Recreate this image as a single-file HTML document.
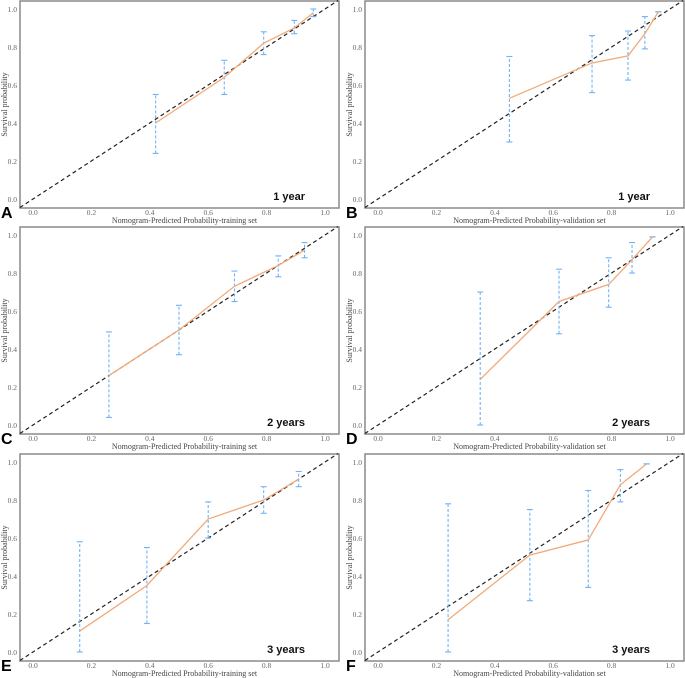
<!DOCTYPE html>
<html><head><meta charset="utf-8"><style>
body{margin:0;background:#fff;}
svg{display:block;}
</style></head><body>
<svg id="c" width="685" height="678" xmlns="http://www.w3.org/2000/svg"></svg>
<script>
const panelLetters=["A","B","C","D","E","F"];
const panelTitles=["1 year","1 year","2 years","2 years","3 years","3 years"];
const xTitles=["Nomogram-Predicted Probability-training set","Nomogram-Predicted Probability-validation set","Nomogram-Predicted Probability-training set","Nomogram-Predicted Probability-validation set","Nomogram-Predicted Probability-training set","Nomogram-Predicted Probability-validation set"];
const ticks=[0,0.2,0.4,0.6,0.8,1.0];
const tickLabels=["0.0","0.2","0.4","0.6","0.8","1.0"];
const predA=[0.42,0.655,0.79,0.895,0.96], obsA=[0.40,0.64,0.82,0.90,0.98], loA=[0.24,0.55,0.76,0.87,0.96], hiA=[0.55,0.73,0.88,0.94,1.0];
const predB=[0.45,0.733,0.856,0.914,0.96], obsB=[0.53,0.716,0.753,0.87,0.985], loB=[0.30,0.56,0.626,0.79,0.985], hiB=[0.75,0.86,0.884,0.96,0.985];
const predC=[0.26,0.50,0.69,0.84,0.93], obsC=[0.26,0.50,0.73,0.84,0.92], loC=[0.04,0.37,0.65,0.78,0.88], hiC=[0.49,0.63,0.81,0.89,0.96];
const predD=[0.35,0.62,0.79,0.87,0.94], obsD=[0.24,0.65,0.74,0.87,0.99], loD=[0.0,0.48,0.62,0.80,0.99], hiD=[0.70,0.82,0.88,0.96,0.99];
const predE=[0.16,0.39,0.60,0.79,0.91], obsE=[0.11,0.35,0.70,0.80,0.91], loE=[0.0,0.15,0.60,0.73,0.87], hiE=[0.58,0.55,0.79,0.87,0.95];
const predF=[0.24,0.52,0.72,0.83,0.92], obsF=[0.17,0.51,0.59,0.88,0.99], loF=[0.0,0.27,0.34,0.79,0.99], hiF=[0.78,0.75,0.85,0.96,0.99];
const preds=[predA,predB,predC,predD,predE,predF], obss=[obsA,obsB,obsC,obsD,obsE,obsF], los=[loA,loB,loC,loD,loE,loF], his=[hiA,hiB,hiC,hiD,hiE,hiF];
const NS="http://www.w3.org/2000/svg";
const svg=document.getElementById('c');
function mk(t,a,p){const e=document.createElementNS(NS,t);for(const k in a)e.setAttribute(k,a[k]);(p||svg).appendChild(e);return e;}
const offX=[0,345], offY=[0,226,453];
for(let i=0;i<6;i++){
  const ox=offX[i%2], oy=offY[Math.floor(i/2)];
  const g=mk('g',{transform:`translate(${ox},${oy})`});
  
  
  const bl=20, br=339, bt=1, bb=208;
  const X=v=>33+v*292, Y=v=>199-v*190;
  const box=mk('rect',{x:bl,y:bt,width:br-bl,height:bb-bt,fill:'none',stroke:'#8a8a8a','stroke-width':1.5},g);
  
  
  ticks.forEach((t,k)=>{
    const yl=mk('text',{x:bl-3,y:Y(t)+3,'text-anchor':'end','font-family':'Liberation Serif, serif','font-size':7.5,fill:'#666'},g);
    yl.textContent=tickLabels[k];
    
    
    const xl=mk('text',{x:X(t),y:bb+7,'text-anchor':'middle','font-family':'Liberation Serif, serif','font-size':7.5,fill:'#666'},g);
    xl.textContent=tickLabels[k];
    
    
  });
  const yt=mk('text',{x:0,y:0,transform:`translate(7,${(bt+bb)/2}) rotate(-90)`,'text-anchor':'middle','font-family':'Liberation Serif, serif','font-size':8,fill:'#444'},g);
  yt.textContent='Survival probability';
  
  
  const xt=mk('text',{x:(bl+br)/2+5,y:bb+15,'text-anchor':'middle','font-family':'Liberation Serif, serif','font-size':8,fill:'#444'},g);
  xt.textContent=xTitles[i];
  
  
  const diag=mk('line',{x1:X(-0.045),y1:Y(-0.045),x2:X(1.045),y2:Y(1.045),stroke:'#222','stroke-width':1.2,'stroke-dasharray':'4,3'},g);
  
  
  const p=preds[i],o=obss[i],lo=los[i],hi=his[i];
  for(let k=0;k<p.length;k++){
    const eb=mk('g',{stroke:'#6fb3f7','stroke-width':1.1},g);
    
    
    mk('line',{x1:X(p[k]),y1:Y(lo[k]),x2:X(p[k]),y2:Y(hi[k]),'stroke-dasharray':'3,2'},eb);
    mk('line',{x1:X(p[k])-3,y1:Y(lo[k]),x2:X(p[k])+3,y2:Y(lo[k])},eb);
    mk('line',{x1:X(p[k])-3,y1:Y(hi[k]),x2:X(p[k])+3,y2:Y(hi[k])},eb);
  }
  const pl=mk('polyline',{points:p.map((v,k)=>X(v)+','+Y(o[k])).join(' '),fill:'none',stroke:'#f2aa78','stroke-width':1.3},g);
  
  
  const ti=mk('text',{x:305,y:200,'text-anchor':'end','font-family':'Liberation Sans, sans-serif','font-size':11,'font-weight':'bold',fill:'#111'},g);
  ti.textContent=panelTitles[i];
  
  
  const le=mk('text',{x:1,y:218,'font-family':'Liberation Sans, sans-serif','font-size':16,'font-weight':'bold',fill:'#000'},g);
  le.textContent=panelLetters[i];
  
  
}
</script>
</body></html>
